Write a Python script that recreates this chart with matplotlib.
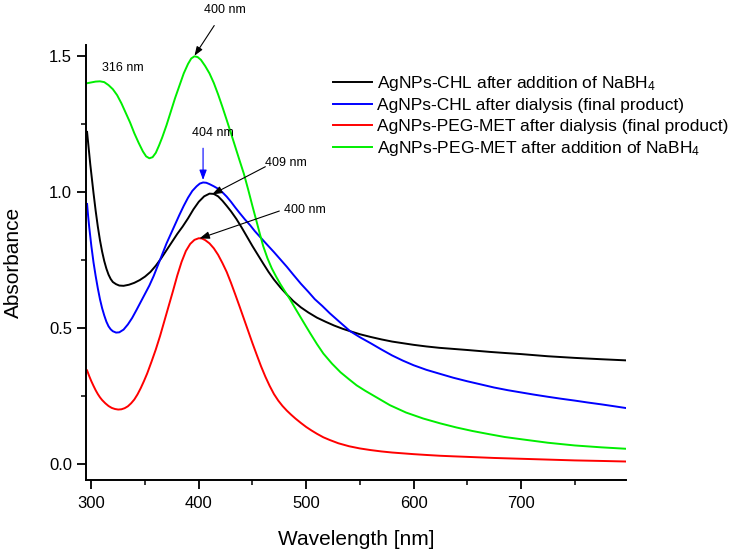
import matplotlib
matplotlib.use("Agg")
import matplotlib.pyplot as plt
from matplotlib.ticker import MultipleLocator

plt.rcParams["font.family"] = ["Liberation Sans", "DejaVu Sans"]
plt.rcParams["mathtext.fontset"] = "custom"
plt.rcParams["mathtext.rm"] = "Liberation Sans"
plt.rcParams["mathtext.it"] = "Liberation Sans:italic"

# AgNPs-CHL after addition of NaBH4 (black)
wl_chl_nabh4 = [296, 297, 298, 299, 300, 301, 302, 304, 306, 308, 310, 312, 314, 316,
                318, 320, 323, 326, 330, 335, 340, 345, 350, 355, 360, 365, 370, 375,
                380, 385, 390, 395, 400, 405, 410, 414, 418, 422, 426, 430, 435, 440,
                445, 450, 455, 460, 465, 470, 476, 482, 488, 495, 502, 510, 518, 526,
                534, 541, 550, 560, 570, 580, 590, 600, 612, 624, 637, 650, 671, 685,
                700, 725, 750, 775, 797]
abs_chl_nabh4 = [1.22, 1.18, 1.14, 1.10, 1.065, 1.03, 0.995, 0.93, 0.872, 0.822, 0.78,
                 0.745, 0.717, 0.695, 0.679, 0.668, 0.66, 0.655, 0.654, 0.658, 0.665,
                 0.675, 0.688, 0.705, 0.728, 0.755, 0.785, 0.815, 0.845, 0.872, 0.902,
                 0.935, 0.963, 0.983, 0.993, 0.992, 0.983, 0.967, 0.948, 0.928, 0.90,
                 0.868, 0.834, 0.80, 0.768, 0.736, 0.705, 0.677, 0.648, 0.622, 0.598,
                 0.575, 0.556, 0.537, 0.522, 0.508, 0.496, 0.487, 0.476, 0.466, 0.457,
                 0.449, 0.443, 0.437, 0.431, 0.426, 0.422, 0.418, 0.411, 0.407, 0.403,
                 0.395, 0.389, 0.384, 0.38]

# AgNPs-CHL after dialysis (blue)
wl_chl_dial = [296, 297, 298, 299, 300, 302, 304, 306, 308, 310, 312, 314, 316, 318,
               320, 323, 326, 330, 334, 338, 342, 346, 350, 354, 358, 362, 366, 370,
               374, 378, 382, 386, 390, 394, 398, 401, 404, 407, 410, 414, 418, 422,
               426, 430, 434, 438, 443, 448, 452, 457, 463, 470, 476, 482, 488, 495,
               502, 508, 515, 522, 530, 541, 550, 560, 570, 580, 590, 600, 612, 624,
               637, 650, 662, 675, 688, 700, 712, 725, 737, 750, 762, 775, 787, 797]
abs_chl_dial = [0.955, 0.91, 0.87, 0.835, 0.80, 0.74, 0.69, 0.645, 0.605, 0.572, 0.545,
                0.522, 0.505, 0.494, 0.487, 0.482, 0.483, 0.493, 0.512, 0.536, 0.565,
                0.595, 0.625, 0.655, 0.69, 0.73, 0.77, 0.81, 0.845, 0.88, 0.915, 0.948,
                0.978, 1.003, 1.02, 1.03, 1.034, 1.033, 1.028, 1.02, 1.011, 0.998,
                0.982, 0.963, 0.942, 0.922, 0.898, 0.876, 0.856, 0.834, 0.808, 0.778,
                0.751, 0.724, 0.695, 0.662, 0.632, 0.605, 0.58, 0.553, 0.525, 0.487,
                0.465, 0.443, 0.42, 0.398, 0.379, 0.362, 0.345, 0.331, 0.316, 0.303,
                0.292, 0.28, 0.27, 0.262, 0.254, 0.246, 0.239, 0.232, 0.225, 0.218,
                0.211, 0.205]

# AgNPs-PEG-MET after dialysis (red)
wl_peg_dial = [296, 298, 300, 302, 304, 306, 308, 310, 313, 316, 319, 322, 325, 328,
               331, 334, 337, 340, 343, 346, 349, 352, 356, 360, 364, 368, 372, 376,
               380, 384, 388, 392, 396, 400, 403, 406, 410, 414, 418, 422, 426, 430,
               434, 438, 442, 446, 450, 454, 458, 462, 466, 470, 474, 478, 482, 486,
               490, 495, 500, 505, 510, 516, 522, 530, 540, 550, 560, 570, 580, 590,
               600, 612, 625, 637, 650, 675, 700, 725, 750, 775, 797]
abs_peg_dial = [0.343, 0.322, 0.303, 0.286, 0.27, 0.256, 0.244, 0.234, 0.222, 0.212,
                0.205, 0.201, 0.199, 0.20, 0.204, 0.211, 0.222, 0.236, 0.255, 0.278,
                0.304, 0.332, 0.375, 0.42, 0.47, 0.525, 0.58, 0.635, 0.692, 0.742,
                0.782, 0.808, 0.823, 0.829, 0.828, 0.822, 0.81, 0.792, 0.768, 0.738,
                0.705, 0.665, 0.622, 0.578, 0.533, 0.488, 0.443, 0.40, 0.358, 0.32,
                0.286, 0.256, 0.232, 0.212, 0.195, 0.18, 0.166, 0.15, 0.135, 0.122,
                0.11, 0.097, 0.087, 0.075, 0.064, 0.056, 0.05, 0.045, 0.041, 0.038,
                0.035, 0.032, 0.029, 0.027, 0.025, 0.021, 0.018, 0.015, 0.012, 0.01,
                0.008]

# AgNPs-PEG-MET after addition of NaBH4 (green)
wl_peg_nabh4 = [296, 300, 304, 308, 312, 316, 320, 324, 328, 332, 336, 340, 344, 348,
                351, 354, 357, 360, 363, 366, 370, 374, 378, 382, 386, 390, 393, 396,
                399, 402, 406, 410, 414, 418, 422, 426, 430, 434, 438, 442, 446, 450,
                454, 457, 460, 464, 468, 472, 476, 480, 485, 490, 495, 500, 504, 510,
                516, 524, 532, 540, 547, 555, 565, 578, 593, 609, 625, 640, 655, 671,
                685, 700, 725, 750, 775, 797]
abs_peg_nabh4 = [1.399, 1.402, 1.405, 1.406, 1.403, 1.392, 1.377, 1.355, 1.325, 1.29,
                 1.255, 1.215, 1.18, 1.148, 1.13, 1.123, 1.127, 1.143, 1.17, 1.20,
                 1.245, 1.295, 1.345, 1.39, 1.435, 1.47, 1.49, 1.498, 1.495, 1.485,
                 1.462, 1.435, 1.40, 1.358, 1.312, 1.264, 1.215, 1.165, 1.115, 1.066,
                 1.008, 0.947, 0.888, 0.843, 0.80, 0.755, 0.718, 0.688, 0.66, 0.635,
                 0.604, 0.57, 0.537, 0.504, 0.478, 0.44, 0.405, 0.368, 0.336, 0.31,
                 0.288, 0.268, 0.245, 0.215, 0.188, 0.166, 0.148, 0.133, 0.12, 0.108,
                 0.098, 0.09, 0.077, 0.067, 0.06, 0.055]

labels = ["AgNPs-CHL after addition of NaBH$_4$",
          "AgNPs-CHL after dialysis (final product)",
          "AgNPs-PEG-MET after dialysis (final product)",
          "AgNPs-PEG-MET after addition of NaBH$_4$"]
colors = ["#000000", "#0000ff", "#ff0000", "#00ee00"]

fig = plt.figure(figsize=(7.35, 5.54), dpi=100)
ax = fig.add_axes([0.117, 0.1336, 0.735, 0.7854])

series = [(wl_chl_nabh4, abs_chl_nabh4), (wl_chl_dial, abs_chl_dial),
          (wl_peg_dial, abs_peg_dial), (wl_peg_nabh4, abs_peg_nabh4)]
for (wl, ab), lab, col in zip(series, labels, colors):
    ax.plot(wl, ab, color=col, lw=1.4, label=lab)

ax.set_xlim(295, 798)
ax.set_ylim(-0.06, 1.54)
ax.xaxis.set_major_locator(MultipleLocator(100))
ax.xaxis.set_minor_locator(MultipleLocator(50))
ax.yaxis.set_major_locator(MultipleLocator(0.5))
ax.yaxis.set_minor_locator(MultipleLocator(0.25))
ax.spines["top"].set_visible(False)
ax.spines["right"].set_visible(False)
for s in ("left", "bottom"):
    ax.spines[s].set_linewidth(1.4)
ax.tick_params(which="major", direction="out", length=6.5, width=1.3, labelsize=12)
ax.tick_params(axis="x", which="major", pad=5)
ax.tick_params(which="minor", direction="out", length=3.5, width=1.1)

ax.set_xlabel("Wavelength [nm]", fontsize=15)
ax.set_ylabel("Absorbance", fontsize=15)
ax.xaxis.set_label_coords(0.5, -0.116)
ax.yaxis.set_label_coords(-0.117, 0.5)

# peak annotations
head = "-|>,head_length=0.6,head_width=0.22"
ax.text(329.5, 1.454, "316 nm", fontsize=9, ha="center", va="center")
ax.annotate("400 nm", xy=(396, 1.50), xytext=(424, 1.669), fontsize=9,
            ha="center", va="center", annotation_clip=False,
            arrowprops=dict(arrowstyle=head, color="black", lw=0.8, shrinkA=6, shrinkB=0))
ax.text(412.7, 1.215, "404 nm", fontsize=9, ha="center", va="center")
ax.annotate("", xy=(404, 1.043), xytext=(404, 1.160),
            arrowprops=dict(arrowstyle=head, color="#0000ff", lw=0.8, shrinkA=0, shrinkB=0))
ax.text(481.4, 1.105, "409 nm", fontsize=9, ha="center", va="center")
ax.annotate("", xy=(412.4, 0.99), xytext=(462, 1.092),
            arrowprops=dict(arrowstyle=head, color="black", lw=0.8, shrinkA=0, shrinkB=0))
ax.text(499, 0.933, "400 nm", fontsize=9, ha="center", va="center")
ax.annotate("", xy=(400.6, 0.828), xytext=(475, 0.929),
            arrowprops=dict(arrowstyle=head, color="black", lw=0.8, shrinkA=0, shrinkB=0))

ax.legend(loc="upper left", bbox_to_anchor=(333 / 735, 1 - 74 / 554),
          bbox_transform=fig.transFigure, frameon=False, fontsize=12.5,
          borderpad=0, borderaxespad=0, handlelength=2.25, handletextpad=0.3,
          labelspacing=0.3)

fig.savefig("out.png", dpi=100)
